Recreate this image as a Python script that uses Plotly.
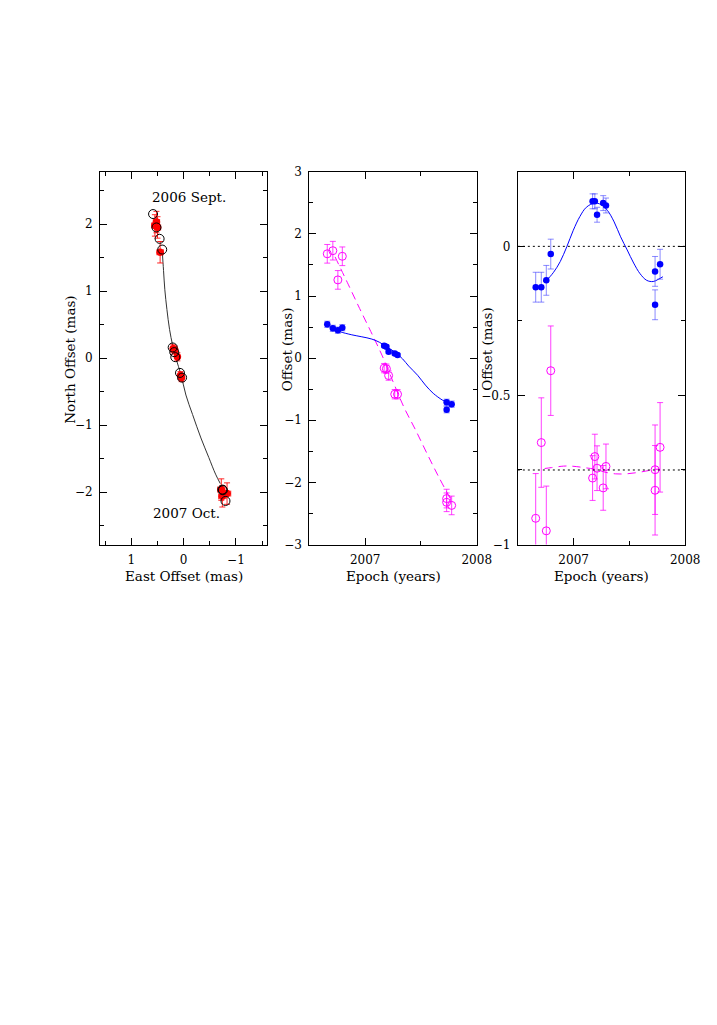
import plotly.graph_objects as go

# ---- data ----
# epochs of the 12 observations (years)
epochs = [2006.66, 2006.71, 2006.755, 2006.795, 2007.17, 2007.19, 2007.21,
          2007.265, 2007.29, 2007.73, 2007.73, 2007.775]

# left panel: sky positions
model_east = [0.585, 0.52, 0.46, 0.41, 0.21, 0.18, 0.16, 0.07, 0.03, -0.74, -0.75, -0.80]
model_north = [2.15, 1.95, 1.78, 1.62, 0.16, 0.09, 0.015, -0.22, -0.29, -1.96, -1.97, -2.13]
obs_east = [0.55, 0.52, 0.50, 0.45, 0.20, 0.17, 0.12, 0.06, 0.04, -0.72, -0.74, -0.83]
obs_north = [1.98, 2.03, 1.95, 1.58, 0.14, 0.12, 0.02, -0.26, -0.29, -1.96, -2.06, -2.02]
obs_east_err = [0.06, 0.06, 0.06, 0.06, 0.04, 0.04, 0.04, 0.04, 0.04, 0.07, 0.07, 0.07]
obs_north_err = [0.16, 0.16, 0.16, 0.16, 0.06, 0.06, 0.06, 0.06, 0.06, 0.16, 0.16, 0.16]
track_east = [0.41, 0.385, 0.36, 0.32, 0.27, 0.21, 0.145, 0.05, -0.043, -0.17, -0.33, -0.48, -0.61, -0.70]
track_north = [1.60, 1.31, 1.02, 0.725, 0.43, 0.19, -0.01, -0.25, -0.55, -0.84, -1.19, -1.48, -1.73, -1.87]

# middle panel: offsets vs epoch
off_blue = [0.545, 0.48, 0.45, 0.49, 0.20, 0.185, 0.105, 0.074, 0.05, -0.71, -0.83, -0.74]
off_blue_err = [0.05, 0.05, 0.05, 0.05, 0.025, 0.025, 0.025, 0.025, 0.025, 0.05, 0.05, 0.05]
off_mag = [1.68, 1.73, 1.26, 1.64, -0.16, -0.17, -0.28, -0.58, -0.58, -2.32, -2.26, -2.37]
off_mag_err = [0.15, 0.15, 0.15, 0.15, 0.075, 0.075, 0.075, 0.075, 0.075, 0.15, 0.15, 0.15]
fit_blue_t = [2006.76, 2006.78, 2006.88, 2006.97, 2007.06, 2007.13, 2007.19, 2007.26,
              2007.335, 2007.39, 2007.47, 2007.54, 2007.61, 2007.69, 2007.73, 2007.78]
fit_blue_y = [0.44, 0.423, 0.376, 0.344, 0.307, 0.254, 0.185, 0.106,
              -0.011, -0.127, -0.275, -0.434, -0.566, -0.672, -0.709, -0.75]
fit_mag_t = [2006.73, 2006.85, 2006.95, 2007.05, 2007.15, 2007.25, 2007.35,
             2007.45, 2007.55, 2007.65, 2007.76]
fit_mag_y = [1.63, 1.18, 0.80, 0.43, 0.05, -0.38, -0.80, -1.15, -1.52, -1.88, -2.25]

# right panel: residual offsets (magenta shifted by -0.75)
res_blue = [-0.137, -0.137, -0.114, -0.026, 0.151, 0.151, 0.106, 0.145, 0.137, -0.084, -0.196, -0.06]
res_mag = [-0.912, -0.658, -0.954, -0.417, -0.777, -0.705, -0.744, -0.810, -0.738, -0.749, -0.818, -0.674]
res_blue_err = off_blue_err
res_mag_err = off_mag_err
par_blue_t = [2006.73, 2006.763, 2006.82, 2006.88, 2006.939, 2006.997, 2007.056, 2007.114,
              2007.187, 2007.246, 2007.304, 2007.363, 2007.421, 2007.48, 2007.538,
              2007.596, 2007.655, 2007.713, 2007.757, 2007.80]
par_blue_y = [-0.118, -0.111, -0.087, -0.051, -0.001, 0.054, 0.10, 0.131, 0.145, 0.14,
              0.12, 0.082, 0.032, -0.012, -0.056, -0.092, -0.114, -0.118, -0.111, -0.102]
par_mag_t = [2006.74, 2006.80, 2006.909, 2006.98, 2007.114, 2007.20, 2007.29,
             2007.377, 2007.465, 2007.58, 2007.67, 2007.728, 2007.772]
par_mag_y = [-0.745, -0.742, -0.737, -0.737, -0.743, -0.748, -0.758,
             -0.763, -0.763, -0.758, -0.752, -0.748, -0.747]

FONT = "DejaVu Serif"
BLUE = "#0000ff"
MAG = "#ff00ff"
W, H = 701, 1009   # page adds an 8px body margin on each side


def px(X):
    return (X - 8) / W


def py(Y):
    return 1 - (Y - 8) / H


fig = go.Figure()

# ---- left panel ----
fig.add_trace(go.Scatter(x=track_east, y=track_north, mode="lines", line_shape="spline",
                         line=dict(color="#333333", width=1), xaxis="x", yaxis="y"))
fig.add_trace(go.Scatter(
    x=obs_east, y=obs_north, mode="markers", xaxis="x", yaxis="y",
    marker=dict(color="red", size=7.5, symbol="circle"),
    error_x=dict(type="data", array=obs_east_err, color="rgba(255,0,0,0.85)", width=3, thickness=1),
    error_y=dict(type="data", array=obs_north_err, color="rgba(255,0,0,0.85)", width=3, thickness=1)))
fig.add_trace(go.Scatter(x=model_east, y=model_north, mode="markers", xaxis="x", yaxis="y",
                         marker=dict(symbol="circle-open", size=9, color="black", line=dict(width=1))))

# ---- middle panel ----
fig.add_trace(go.Scatter(x=fit_mag_t, y=fit_mag_y, mode="lines", line_shape="spline",
                         line=dict(color=MAG, width=1, dash="8px,5px"), xaxis="x2", yaxis="y2"))
fig.add_trace(go.Scatter(x=fit_blue_t, y=fit_blue_y, mode="lines", line_shape="spline",
                         line=dict(color=BLUE, width=1), xaxis="x2", yaxis="y2"))
fig.add_trace(go.Scatter(
    x=epochs, y=off_mag, mode="markers", xaxis="x2", yaxis="y2",
    marker=dict(symbol="circle-open", size=8, color=MAG, line=dict(width=1)),
    error_y=dict(type="data", array=off_mag_err, color="rgba(255,0,255,0.75)", width=3, thickness=1)))
fig.add_trace(go.Scatter(
    x=epochs, y=off_blue, mode="markers", xaxis="x2", yaxis="y2",
    marker=dict(size=6.5, color=BLUE),
    error_y=dict(type="data", array=off_blue_err, color="rgba(60,60,255,0.6)", width=3, thickness=1)))

# ---- right panel ----
fig.add_trace(go.Scatter(x=par_mag_t, y=par_mag_y, mode="lines", line_shape="spline",
                         line=dict(color=MAG, width=1, dash="8px,6px"), xaxis="x3", yaxis="y3"))
fig.add_trace(go.Scatter(x=par_blue_t, y=par_blue_y, mode="lines", line_shape="spline",
                         line=dict(color=BLUE, width=1), xaxis="x3", yaxis="y3"))
fig.add_trace(go.Scatter(
    x=epochs, y=res_mag, mode="markers", xaxis="x3", yaxis="y3",
    marker=dict(symbol="circle-open", size=8, color=MAG, line=dict(width=1)),
    error_y=dict(type="data", array=res_mag_err, color="rgba(255,0,255,0.75)", width=3, thickness=1)))
fig.add_trace(go.Scatter(
    x=epochs, y=res_blue, mode="markers", xaxis="x3", yaxis="y3",
    marker=dict(size=6.5, color=BLUE),
    error_y=dict(type="data", array=res_blue_err, color="rgba(60,60,255,0.6)", width=3, thickness=1)))

for yv in [0, -0.75]:
    fig.add_shape(type="line", xref="x3 domain", yref="y3", x0=0, x1=1, y0=yv, y1=yv,
                  line=dict(color="black", width=1, dash="2px,3px"))

txt = dict(family=FONT, size=13.5, color="black")
fig.add_annotation(x=-0.1, y=2.4, xref="x", yref="y", text="2006 Sept.", showarrow=False, font=txt)
fig.add_annotation(x=-0.05, y=-2.31, xref="x", yref="y", text="2007 Oct.", showarrow=False, font=txt)

# axis titles
for X, label in [(187.5, "East Offset (mas)"), (401.5, "Epoch (years)"), (614.5, "Epoch (years)")]:
    fig.add_annotation(x=px(X), y=py(577), xref="paper", yref="paper", text=label,
                       showarrow=False, font=txt, xanchor="center", yanchor="middle")
for X, Y, label in [(72, 358, "North Offset (mas)"), (293, 347, "Offset (mas)"), (498, 347, "Offset (mas)")]:
    fig.add_annotation(x=px(X), y=py(Y), xref="paper", yref="paper", text=label, textangle=-90,
                       showarrow=False, font=txt, xanchor="center", yanchor="middle")


def ax(domain, rng, dtick, minor, anchor, tickvals=None):
    d = dict(domain=domain, range=rng, showgrid=False, zeroline=False,
             showline=True, linecolor="black", linewidth=1, mirror="allticks",
             ticks="inside", ticklen=7, tickcolor="black", tickwidth=1,
             ticklabelstandoff=4,
             dtick=dtick, tickfont=dict(family=FONT, size=12, color="black"),
             minor=dict(ticks="inside", ticklen=4, dtick=minor, tickcolor="black", showgrid=False),
             anchor=anchor)
    if tickvals is not None:
        d["tickmode"] = "array"
        d["tickvals"] = tickvals
    return d


ydom = [py(545), py(167)]
fig.update_layout(
    width=W, height=H, showlegend=False,
    paper_bgcolor="white", plot_bgcolor="white",
    margin=dict(l=0, r=0, t=0, b=0),
    xaxis=ax([px(102), px(273)], [1.6, -1.6], 1, 0.5, "y"),
    yaxis=ax(ydom, [-2.78, 2.78], 1, 0.5, "x"),
    xaxis2=ax([px(316), px(487)], [2006.5, 2008], 1, 0.5, "y2", tickvals=[2007, 2008]),
    yaxis2=ax(ydom, [-3, 3], 1, 0.5, "x2"),
    xaxis3=ax([px(529), px(700)], [2006.5, 2008], 1, 0.5, "y3", tickvals=[2007, 2008]),
    yaxis3=ax(ydom, [-1, 0.25], 0.5, 0.25, "x3"),
)
fig.update_xaxes(tickformat="d", selector=dict(anchor="y2"))
fig.update_xaxes(tickformat="d", selector=dict(anchor="y3"))

fig.write_html("out.html", config={"displayModeBar": False})
